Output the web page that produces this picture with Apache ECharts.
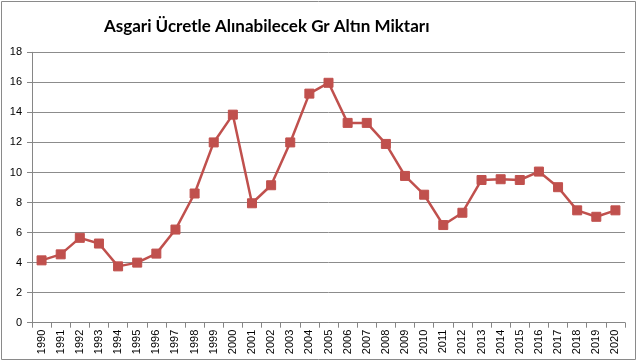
<!DOCTYPE html>
<html><head><meta charset="utf-8">
<script src="https://cdn.jsdelivr.net/npm/echarts@6/dist/echarts.min.js"></script>
<style>html,body{margin:0;padding:0;background:#fff;}#c{width:640px;height:364px;}</style>
</head><body><div id="c"></div>
<script>
const years = ['1990','1991','1992','1993','1994','1995','1996','1997','1998','1999','2000','2001','2002','2003','2004','2005','2006','2007','2008','2009','2010','2011','2012','2013','2014','2015','2016','2017','2018','2019','2020'];
const grams = [4.15,4.55,5.65,5.27,3.75,4.0,4.6,6.2,8.6,12.0,13.85,7.95,9.15,12.0,15.25,15.97,13.3,13.3,11.9,9.77,8.52,6.5,7.32,9.5,9.55,9.5,10.06,9.02,7.48,7.05,7.48];
const yTicks = {min:0, max:18, interval:2};
const titleText = 'Asgari Ücretle Alınabilecek Gr Altın Miktarı';

const chart = echarts.init(document.getElementById('c'));
chart.setOption({
  animation:false,
  backgroundColor:'#fff',
  graphic:[{type:'rect',shape:{x:1.5,y:1.5,width:634,height:358},style:{fill:'none',stroke:'#8a8a8a',lineWidth:1},silent:true}],
  title:{text:titleText,left:99,top:13,textStyle:{fontFamily:'Lato',fontWeight:'bold',fontSize:17,color:'#000'}},
  grid:{left:32,right:15,top:52.3,bottom:41.3},
  xAxis:{type:'category',data:years,boundaryGap:true,
    axisLine:{lineStyle:{color:'#868686',width:1}},
    axisTick:{show:true,length:5,interval:0,lineStyle:{color:'#868686'}},
    axisLabel:{rotate:90,interval:0,fontFamily:'Liberation Sans',fontSize:11,color:'#000',margin:7}},
  yAxis:{type:'value',min:yTicks.min,max:yTicks.max,interval:yTicks.interval,
    axisLine:{show:true,lineStyle:{color:'#868686',width:1}},
    axisTick:{show:true,length:5,lineStyle:{color:'#868686'}},
    splitLine:{lineStyle:{color:'#8c8c8c',width:1}},
    axisLabel:{fontFamily:'Liberation Sans',fontSize:11,color:'#000',margin:10}},
  series:[{type:'line',data:grams,symbol:'rect',symbolSize:9,
    lineStyle:{color:'#C0504D',width:2.5},
    itemStyle:{color:'#C0504D',borderColor:'#C0504D'}}]
});
</script></body></html>
